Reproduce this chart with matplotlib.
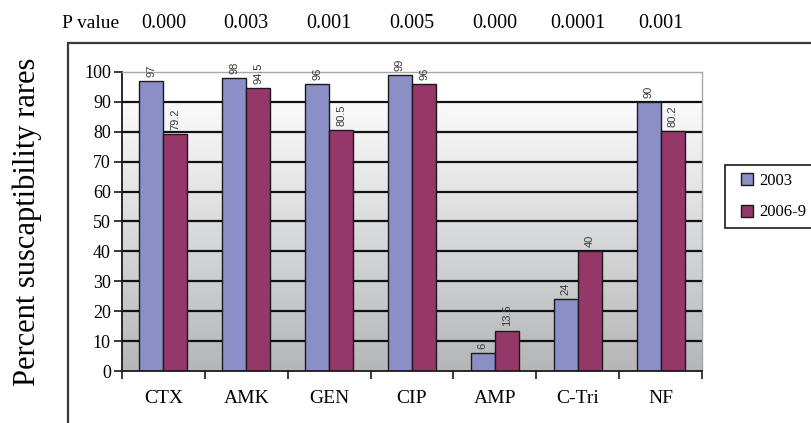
import numpy as np
import matplotlib
matplotlib.use("Agg")
import matplotlib.pyplot as plt
import matplotlib.transforms as mtrans
from matplotlib.patches import Rectangle
from matplotlib.colors import LinearSegmentedColormap

categories = ['CTX', 'AMK', 'GEN', 'CIP', 'AMP', 'C-Tri', 'NF']
values_2003 = [97, 98, 96, 99, 6, 24, 90]
values_2006 = [79.2, 94.5, 80.5, 96, 13.5, 40, 80.2]
p_values = ['0.000', '0.003', '0.001', '0.005', '0.000', '0.0001', '0.001']
series_names = ['2003', '2006-9']
yticks = list(range(0, 101, 10))

c1 = '#8b8fc6'
c2 = '#953769'
serif = 'Liberation Serif'

W, H = 812, 423
fig = plt.figure(figsize=(W / 100, H / 100), dpi=100)
fig.patch.set_facecolor('white')
ax = fig.add_axes([122 / W, 1 - 371 / H, (702 - 122) / W, (371 - 72) / H])

x = np.arange(len(categories))
bw = 0.29
ax.set_xlim(-0.5, len(categories) - 0.5)
ax.set_ylim(0, 100)
ax.set_facecolor('white')

# gradient background
cmap = LinearSegmentedColormap.from_list('g', ['#b4b6b8', '#fbfbfb'])
grad = np.linspace(0, 1, 256).reshape(-1, 1)
ax.imshow(grad, extent=(-0.5, len(categories) - 0.5, 0, 90), origin='lower',
          aspect='auto', cmap=cmap, zorder=0)

for yv in yticks[1:-1]:
    ax.axhline(yv, color='#111111', lw=1.6, zorder=1)

b1 = ax.bar(x - bw / 2, values_2003, bw, color=c1, edgecolor='#1a1a1a', lw=1, zorder=2)
b2 = ax.bar(x + bw / 2, values_2006, bw, color=c2, edgecolor='#1a1a1a', lw=1, zorder=2)

for bars, vals in ((b1, values_2003), (b2, values_2006)):
    for r, v in zip(bars, vals):
        ax.annotate(f'{v:g}', (r.get_x() + r.get_width() / 2, v), xytext=(0, 3),
                    textcoords='offset points', rotation=90, ha='center', va='bottom',
                    fontsize=8, color='#3a3a3a', family='Liberation Sans', zorder=3)

ax.set_yticks(yticks)
ax.set_yticklabels([str(t) for t in yticks], family=serif, fontsize=13)
ax.tick_params(axis='y', direction='out', length=6, width=1.2, color='#1a1a1a', pad=2)
ax.set_xticks(x)
ax.set_xticklabels(categories, family=serif, fontsize=14)
ax.tick_params(axis='x', which='major', length=0, pad=14)
ax.set_xticks(np.arange(-0.5, len(categories)), minor=True)
ax.tick_params(axis='x', which='minor', direction='out', length=6, width=1.2, color='#1a1a1a')

for s in ('top', 'right'):
    ax.spines[s].set_color('#a8a8a8')
    ax.spines[s].set_linewidth(1)
for s in ('left', 'bottom'):
    ax.spines[s].set_color('#1a1a1a')
    ax.spines[s].set_linewidth(1.3)

ax.set_ylabel('Percent suscaptibility rares', family=serif, fontsize=22, labelpad=30)

# P value row
ptrans = mtrans.blended_transform_factory(ax.transData, fig.transFigure)
fig.text(62 / W, 1 - 24 / H, 'P value', family=serif, fontsize=14, ha='left', va='center')
for xi, pv in zip(x, p_values):
    ax.text(xi, 1 - 24 / H, pv, transform=ptrans, family=serif, fontsize=14.5,
            ha='center', va='center', clip_on=False)

# outer frame
fig.add_artist(Rectangle((68 / W, -0.1), 2, 1 - 43 / H + 0.1, transform=fig.transFigure,
                         fill=False, edgecolor='#3a3a3a', lw=1.6))

# legend box (extends past right edge as in the reference)
fig.add_artist(Rectangle((725 / W, 1 - 228 / H), 0.5, (228 - 165) / H,
                         transform=fig.transFigure, facecolor='white',
                         edgecolor='#1a1a1a', lw=1.2))
handles = [plt.Line2D([], [], marker='s', ls='none', markersize=8, markerfacecolor=c,
                      markeredgecolor='#1a1a1a', markeredgewidth=1) for c in (c1, c2)]
leg = fig.legend(handles, series_names, loc='upper left',
                 bbox_to_anchor=(734 / W, 1 - 166 / H), frameon=False,
                 prop={'family': serif, 'size': 12}, labelspacing=0.95,
                 handlelength=0.8, handletextpad=0.3, borderpad=0.4, borderaxespad=0)
leg.set_zorder(5)

fig.savefig('out.png', dpi=100)
